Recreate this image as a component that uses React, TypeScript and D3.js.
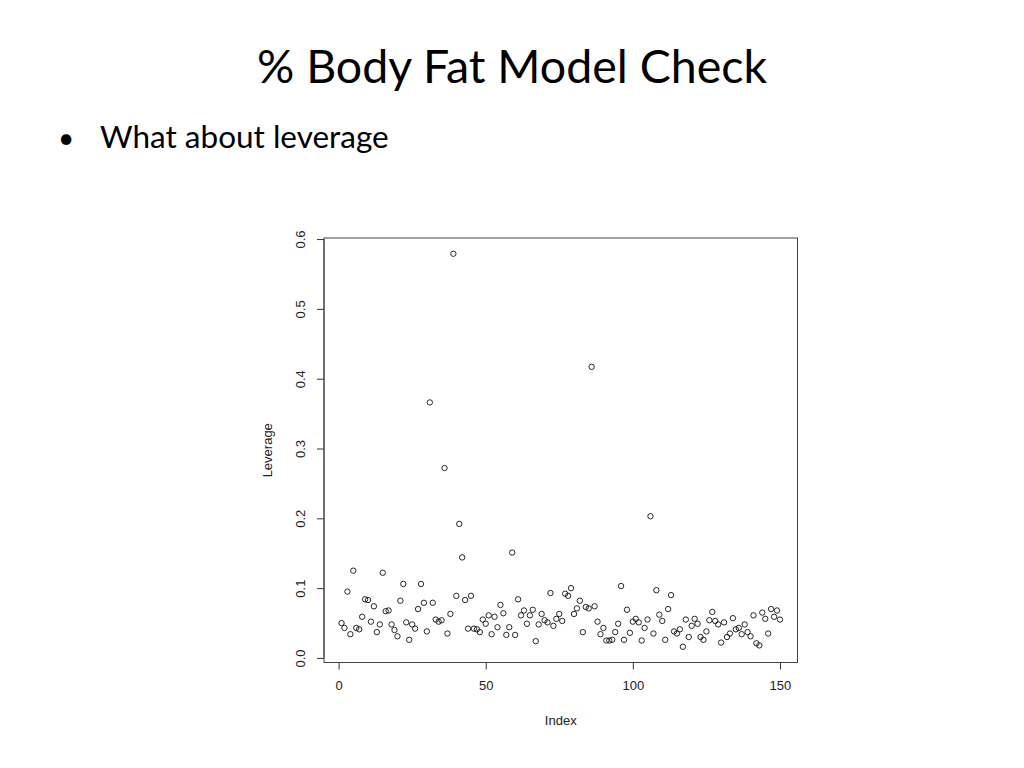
import { useEffect, useRef } from "react";
import * as d3 from "d3";

// leverage (hat values) for obs 1..150
const leverage = [
    0.050, 0.043, 0.095, 0.034, 0.125, 0.043, 0.041, 0.059, 0.084, 0.083,
    0.052, 0.074, 0.037, 0.048, 0.122, 0.067, 0.068, 0.048, 0.040, 0.031,
    0.082, 0.106, 0.051, 0.026, 0.048, 0.042, 0.070, 0.106, 0.079, 0.038,
    0.366, 0.079, 0.055, 0.052, 0.054, 0.272, 0.035, 0.063, 0.579, 0.089,
    0.192, 0.144, 0.083, 0.042, 0.089, 0.042, 0.041, 0.037, 0.055, 0.049,
    0.061, 0.034, 0.059, 0.044, 0.076, 0.064, 0.033, 0.044, 0.151, 0.033,
    0.084, 0.061, 0.068, 0.049, 0.061, 0.069, 0.024, 0.048, 0.063, 0.054,
    0.051, 0.093, 0.046, 0.056, 0.063, 0.053, 0.092, 0.089, 0.100, 0.063,
    0.071, 0.082, 0.037, 0.073, 0.071, 0.417, 0.074, 0.052, 0.034, 0.043,
    0.025, 0.025, 0.026, 0.037, 0.049, 0.103, 0.026, 0.069, 0.036, 0.052,
    0.056, 0.051, 0.025, 0.043, 0.055, 0.203, 0.035, 0.097, 0.062, 0.053,
    0.026, 0.070, 0.090, 0.038, 0.035, 0.041, 0.016, 0.055, 0.030, 0.046,
    0.056, 0.049, 0.030, 0.026, 0.038, 0.054, 0.066, 0.053, 0.048, 0.022,
    0.051, 0.030, 0.035, 0.057, 0.041, 0.043, 0.034, 0.048, 0.037, 0.031,
    0.061, 0.021, 0.018, 0.065, 0.056, 0.035, 0.070, 0.059, 0.068, 0.055,
];

const xTicks = [0, 50, 100, 150];
const yTicks = [0, 0.1, 0.2, 0.3, 0.4, 0.5, 0.6];

const slideTitle = "% Body Fat Model Check";
const bulletText = "What about leverage";
const xLabel = "Index";
const yLabel = "Leverage";

// R's default axis range: data extent padded by 4% on each side
function rRange(lo: number, hi: number): [number, number] {
    const pad = (hi - lo) * 0.04;
    return [lo - pad, hi + pad];
}

export default function App() {
    const svgRef = useRef<SVGSVGElement | null>(null);

    useEffect(() => {
        const width = 1024;
        const height = 768;
        const box = { left: 324, right: 797.5, top: 238, bottom: 662.5 };

        const svg = d3.select(svgRef.current!).attr("width", width).attr("height", height);
        svg.selectAll("*").remove();

        svg.append("rect").attr("width", width).attr("height", height).attr("fill", "#fff");

        // slide text
        svg.append("text")
            .attr("x", 512)
            .attr("y", 83)
            .attr("text-anchor", "middle")
            .style("font-family", "Lato, 'Open Sans', sans-serif")
            .style("font-size", "46.5px")
            .attr("fill", "#000")
            .text(slideTitle);

        svg.append("text")
            .attr("x", 58)
            .attr("y", 148)
            .style("font-family", "Lato, sans-serif")
            .style("font-size", "28px")
            .text("\u2022");

        svg.append("text")
            .attr("x", 100)
            .attr("y", 148)
            .style("font-family", "Lato, 'Open Sans', sans-serif")
            .style("font-size", "31.5px")
            .attr("fill", "#000")
            .text(bulletText);

        const n = leverage.length;
        const x = d3.scaleLinear().domain(rRange(1, n)).range([box.left, box.right]);
        const ext = d3.extent(leverage) as [number, number];
        const y = d3.scaleLinear().domain(rRange(ext[0], ext[1])).range([box.bottom, box.top]);

        const g = svg.append("g").style("font-family", "'Liberation Sans', Arial, sans-serif");

        // axes (R style: line from first to last tick, ticks outward)
        const xAxis = d3.axisBottom(x).tickValues(xTicks).tickSize(7).tickPadding(11).tickFormat(d3.format("d"));
        const yAxis = d3.axisLeft(y).tickValues(yTicks).tickSize(7).tickPadding(9).tickFormat(d3.format(".1f"));

        const gx = g.append("g").attr("transform", `translate(0,${box.bottom})`).call(xAxis as any);
        const gy = g.append("g").attr("transform", `translate(${box.left},0)`).call(yAxis as any);

        for (const ax of [gx, gy]) {
            ax.select(".domain").remove();
            ax.selectAll("line").attr("stroke", "#333");
            ax.selectAll("text").attr("fill", "#222").style("font-size", "13px");
        }
        gx.append("line")
            .attr("x1", x(xTicks[0])).attr("x2", x(xTicks[xTicks.length - 1]))
            .attr("stroke", "#333");
        gy.append("line")
            .attr("y1", y(yTicks[0])).attr("y2", y(yTicks[yTicks.length - 1]))
            .attr("stroke", "#333");

        // rotate y tick labels like R's las=0
        gy.selectAll<SVGTextElement, number>(".tick text")
            .attr("text-anchor", "middle")
            .attr("x", null)
            .attr("transform", "translate(-24,0) rotate(-90)")
            .attr("dy", "0.35em");

        // frame
        g.append("rect")
            .attr("x", box.left)
            .attr("y", box.top)
            .attr("width", box.right - box.left)
            .attr("height", box.bottom - box.top)
            .attr("fill", "none")
            .attr("stroke", "#444");

        // axis titles
        g.append("text")
            .attr("x", (box.left + box.right) / 2)
            .attr("y", 725)
            .attr("text-anchor", "middle")
            .style("font-size", "13px")
            .attr("fill", "#222")
            .text(xLabel);

        g.append("text")
            .attr("transform", `translate(272,${(box.top + box.bottom) / 2}) rotate(-90)`)
            .attr("text-anchor", "middle")
            .style("font-size", "13px")
            .attr("fill", "#222")
            .text(yLabel);

        // points, pch = 1
        g.append("g")
            .selectAll("circle")
            .data(leverage)
            .join("circle")
            .attr("cx", (_d, i) => x(i + 1))
            .attr("cy", (d) => y(d))
            .attr("r", 2.7)
            .attr("fill", "none")
            .attr("stroke", "#111")
            .attr("stroke-width", 0.9);
    }, []);

    return (
        <div style={{ position: "absolute", left: 0, top: 0 }}>
            <svg ref={svgRef} />
        </div>
    );
}
